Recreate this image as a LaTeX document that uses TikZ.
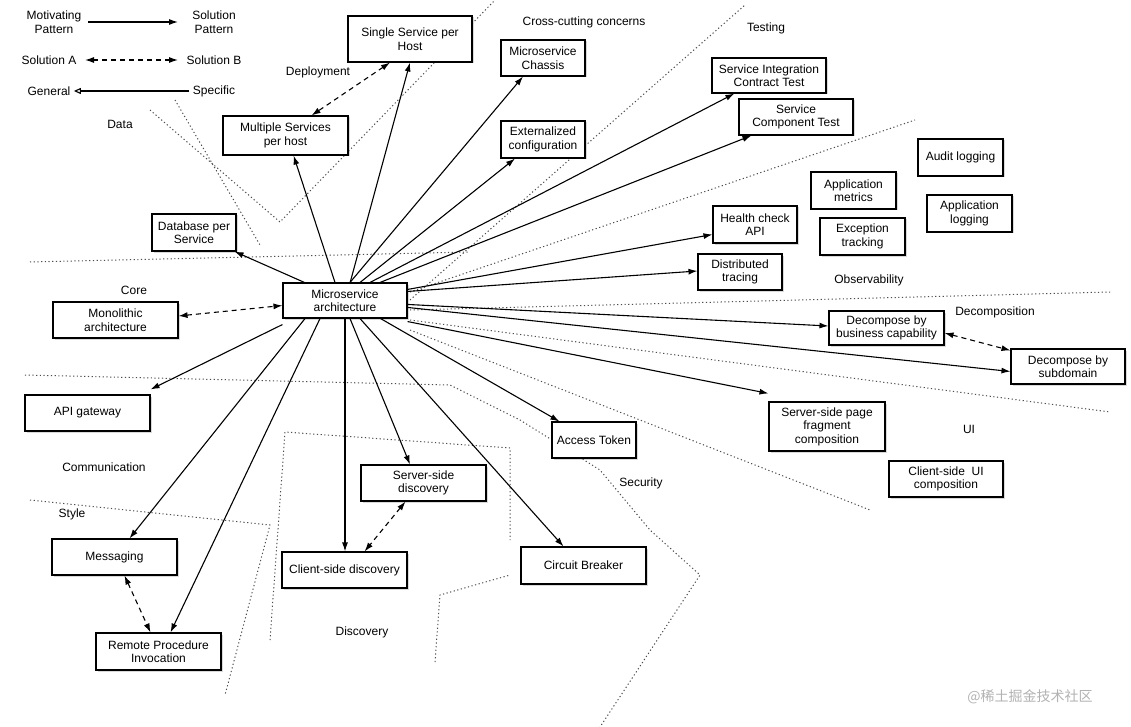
\documentclass[tikz,border=0pt]{standalone}
\usepackage{fontspec}
\setmainfont{Liberation Sans}
\newfontfamily\cjk{Noto Sans CJK SC}
\usetikzlibrary{arrows.meta,shadows}
\begin{document}
\begin{tikzpicture}[x=1pt,y=-1pt,
  every node/.style={font=\fontsize{12}{13.5}\selectfont},
  box/.style={draw,line width=1.1pt,fill=white,align=center,inner sep=0pt,drop shadow={shadow xshift=1.5pt,shadow yshift=-1.5pt,opacity=0.3}},
  lbl/.style={align=center},
  ar/.style={-{Latex[length=9pt,width=6pt]},line width=1.1pt},
  dar/.style={{Latex[length=9pt,width=6pt]}-{Latex[length=9pt,width=6pt]},line width=1.1pt,dash pattern=on 5pt off 4pt},
  reg/.style={line width=1pt,dash pattern=on 1.2pt off 2.5pt,black!70}]
\useasboundingbox (0,0) rectangle (1131,727);
\newcommand{\bx}[6]{\node[box,minimum width={#4-#2},minimum height={#5-#3}] (#1) at ({(#2+#4)/2},{(#3+#5)/2}) {#6};}
% regions
\draw[reg] (30,262) -- (470,252);
\draw[reg] (150,110) -- (280,222) -- (495,0);
\draw[reg] (175,100) -- (260,245);
\draw[reg] (410,300) -- (745,5);
\draw[reg] (410,292) -- (915,120);
\draw[reg] (410,310) -- (1110,292);
\draw[reg] (410,320) -- (1110,412);
\draw[reg] (410,330) -- (870,510);
\draw[reg] (25,375) -- (450,385) -- (520,420) -- (600,470) -- (650,530) -- (700,575) -- (600,727);
\draw[reg] (270,640) -- (285,432) -- (510,448) -- (510,540);
\draw[reg] (435,662) -- (440,595) -- (510,575);
\draw[reg] (30,500) -- (270,525) -- (225,695);
% boxes
\bx{ssh}{348}{16}{472}{62}{Single Service per\\Host}
\bx{chassis}{501}{40}{585}{76}{Microservice\\Chassis}
\bx{sict}{712}{58}{826}{93}{Service Integration\\Contract Test}
\bx{sct}{739}{99}{853}{135}{Service\\Component Test}
\bx{msh}{223}{116}{348}{155}{Multiple Services\\per host}
\bx{ext}{501}{121}{585}{158}{Externalized\\configuration}
\bx{audit}{918}{139}{1003}{176}{Audit logging}
\bx{metrics}{811}{172}{896}{209}{Application\\metrics}
\bx{applog}{927}{195}{1012}{232}{Application\\logging}
\bx{dbps}{152}{214}{236}{251}{Database per\\Service}
\bx{health}{713}{206}{797}{243}{Health check\\API}
\bx{exc}{820}{218}{905}{255}{Exception\\tracking}
\bx{dtr}{698}{254}{782}{290}{Distributed\\tracing}
\bx{ma}{283}{283}{407}{318}{Microservice\\architecture}
\bx{mono}{53}{302}{178}{338}{Monolithic\\architecture}
\bx{dbc}{829}{311}{944}{345}{Decompose by\\business capability}
\bx{dsd}{1011}{349}{1125}{384}{Decompose by\\subdomain}
\bx{apigw}{25}{395}{150}{431}{API gateway}
\bx{sspf}{769}{402}{885}{451}{Server-side page\\fragment\\composition}
\bx{token}{552}{422}{636}{458}{Access Token}
\bx{csui}{889}{461}{1003}{497}{Client-side\ \ UI\\composition}
\bx{ssd}{361}{465}{486}{501}{Server-side\\discovery}
\bx{msg}{52}{539}{177}{575}{Messaging}
\bx{csd}{282}{552}{407}{588}{Client-side discovery}
\bx{cb}{521}{547}{646}{584}{Circuit Breaker}
\bx{rpi}{96}{633}{221}{670}{Remote Procedure\\Invocation}
% region labels
\node[lbl] at (584,22) {Cross-cutting concerns};
\node[lbl] at (766,28) {Testing};
\node[lbl] at (318,72) {Deployment};
\node[lbl] at (120,124) {Data};
\node[lbl] at (134,290) {Core};
\node[lbl] at (869,280) {Observability};
\node[lbl] at (995,312) {Decomposition};
\node[lbl] at (969,429) {UI};
\node[lbl] at (104,467) {Communication};
\node[lbl] at (72,514) {Style};
\node[lbl] at (641,483) {Security};
\node[lbl] at (362,632) {Discovery};
% legend
\node[lbl] (mp) at (54,22) {Motivating\\Pattern};
\node[lbl] (sp) at (214,22) {Solution\\Pattern};
\node[lbl] (sa) at (49,60) {Solution A};
\node[lbl] (sb) at (214,60) {Solution B};
\node[lbl] (gen) at (49,91) {General};
\node[lbl] (spec) at (214,91) {Specific};
\draw[ar] (88,22) -- (178,22);
\draw[dar] (85,60) -- (178,60);
\draw[-{Triangle[open,length=7pt,width=6pt]},line width=1.1pt] (spec.west) -- (gen.east);
% connectors
\draw[ar] (350,283) -- (ssh.south);
\draw[ar] ([xshift=-10pt]ma.north) -- ([xshift=-55pt]msh.south east);
\draw[ar] ([xshift=5pt]ma.north) -- ([xshift=-20pt]chassis.south);
\draw[ar] ([xshift=15pt]ma.north) -- ([xshift=-28pt]ext.south);
\draw[ar] ([xshift=25pt]ma.north) -- ([xshift=23pt]sict.south west);
\draw[ar] ([xshift=35pt]ma.north) -- ([xshift=13pt]sct.south west);
\draw[ar] ([yshift=-7pt]ma.north east) -- ([yshift=-10pt]health.west);
\draw[ar] ([yshift=-9pt]ma.north east) -- ([yshift=1pt]dtr.west);
\draw[ar] ([yshift=-22pt]ma.north east) -- ([yshift=2pt]dbc.west);
\draw[ar] ([yshift=-25pt]ma.north east) -- ([yshift=-5pt]dsd.west);
\draw[ar] ([yshift=-3pt]ma.south east) -- ([yshift=8pt]sspf.north west);
\draw[ar] ([xshift=-27pt]ma.south east) -- ([xshift=8pt]token.north west);
\draw[ar] ([xshift=15pt]ma.south) -- ([xshift=-20pt]cb.north);
\draw[ar] ([xshift=5pt]ma.south) -- (ssd.north -| 410,0);
\draw[ar] (345,318) -- (csd.north -| 345,0);
\draw[ar] ([xshift=-25pt]ma.south) -- ([xshift=12pt]rpi.north);
\draw[ar] ([xshift=-40pt]ma.south) -- ([xshift=15pt]msg.north);
\draw[ar] ([yshift=-6pt]ma.south west) -- ([yshift=5pt]apigw.north east);
\draw[ar] ([xshift=22pt]ma.north west) -- ([xshift=-2pt]dbps.south east);
\draw[dar] (mono.east) ++(0,-4) -- ([yshift=-5pt]ma.west);
\draw[dar] ([xshift=-20pt]ssh.south) -- ([xshift=-37pt]msh.north east);
\draw[dar] ([yshift=-5pt]dbc.east) -- ([yshift=-2pt]dsd.north west);
\draw[dar] ([xshift=-18pt]ssd.south) -- ([xshift=-43pt]csd.north east);
\draw[dar] ([xshift=10pt]msg.south) -- ([xshift=-8pt]rpi.north);
% watermark
\node[text=gray!60,font=\cjk\fontsize{14}{15}\selectfont] at (1030,697) {@稀土掘金技术社区};
\end{tikzpicture}
\end{document}
